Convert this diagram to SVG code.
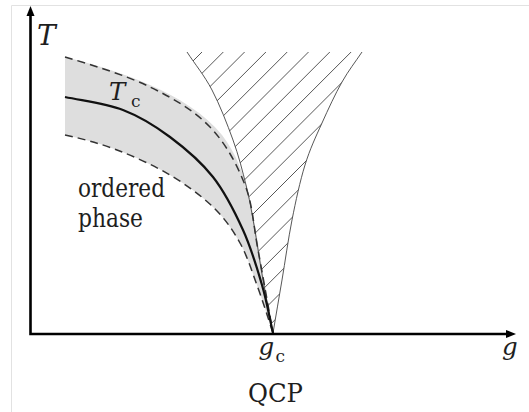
<svg xmlns="http://www.w3.org/2000/svg" width="529" height="412" viewBox="0 0 529 412">
<defs>
<style>
text{font-family:'DejaVu Serif',serif;fill:#1e1e1e}
.it{font-style:italic}
.dash{fill:none;stroke:#333;stroke-width:1.5;stroke-dasharray:8 5}
.thin{fill:none;stroke:#444;stroke-width:0.9}
</style>
<clipPath id="hatchClip">
<path d="M187,52 C195.3,64.7 204.3,75.3 212,90 C219.7,104.7 227.3,124.2 233,140 C238.7,155.8 242.5,170.8 246,185 C249.5,199.2 251.2,209.2 254,225 C256.8,240.8 259.8,262 263,280 C266.2,298 269.7,315.3 273,333 C276,315.3 278.8,298.8 282,280 C285.2,261.2 288.2,239.2 292,220 C295.8,200.8 300,181.2 305,165 C310,148.8 315.8,136.8 322,123 C328.2,109.2 335.3,93.8 342,82 C348.7,70.2 355.3,62 362,52 Z"/>
</clipPath>
</defs>
<rect width="529" height="412" fill="#fff"/>
<g id="frame" fill="none" stroke="#e2e2e2" stroke-width="1">
<path d="M11.5,412 L11.5,5.5 L529,5.5"/>
</g>
<g id="band">
<path fill="#dedede" d="M65,57 C93,64 126,74 150,85 C178,97 205,114 222,135 C236,153 244,175 249,195 C255,220 262,270 273,333 C268,318 263.5,303 258,288 C252.5,273 247.5,256.5 240,243 C232.5,229.5 224.7,218.3 213,207 C201.3,195.7 186,184.5 170,175 C154,165.5 134.5,156.7 117,150 C99.5,143.3 82.3,138.7 65,135 Z"/>
</g>
<g id="hatch">
<path class="thin" clip-path="url(#hatchClip)" d="M-107.3,340 L192.7,40 M-86,340 L214,40 M-64.7,340 L235.3,40 M-43.4,340 L256.6,40 M-22.1,340 L277.9,40 M-0.8,340 L299.2,40 M20.5,340 L320.5,40 M41.8,340 L341.8,40 M63.1,340 L363.1,40 M84.4,340 L384.4,40 M105.7,340 L405.7,40 M127,340 L427,40 M148.3,340 L448.3,40 M169.6,340 L469.6,40 M190.9,340 L490.9,40 M212.2,340 L512.2,40 M233.5,340 L533.5,40 M254.8,340 L554.8,40 M276.1,340 L576.1,40"/>
<path class="thin" d="M187,52 C195.3,64.7 204.3,75.3 212,90 C219.7,104.7 227.3,124.2 233,140 C238.7,155.8 242.5,170.8 246,185 C249.5,199.2 251.2,209.2 254,225 C256.8,240.8 259.8,262 263,280 C266.2,298 269.7,315.3 273,333"/>
<path class="thin" d="M362,52 C355.3,62 348.7,70.2 342,82 C335.3,93.8 328.2,109.2 322,123 C315.8,136.8 310,148.8 305,165 C300,181.2 295.8,200.8 292,220 C288.2,239.2 285.2,261.2 282,280 C278.8,298.8 276,315.3 273,333"/>
</g>
<g id="curves">
<path class="dash" d="M65,57 C93.3,65.3 125.8,75.3 150,87 C174.2,98.7 194.2,110.7 210,127 C225.8,143.3 237,164.5 245,185 C253,205.5 253.3,225.3 258,250 C262.7,274.7 268,305.3 273,333"/>
<path class="dash" d="M65,135 C82.3,138.7 99.5,143.3 117,150 C134.5,156.7 154,165.5 170,175 C186,184.5 201.3,195.7 213,207 C224.7,218.3 232.5,229.5 240,243 C247.5,256.5 252.5,273 258,288 C263.5,303 268,318 273,333"/>
<path fill="none" stroke="#111" stroke-width="2.2" d="M65,97 C84.3,101 105.5,103.3 123,110 C140.5,116.7 155,125.8 170,137 C185,148.2 200.8,161.5 213,177 C225.2,192.5 234.8,212 243,230 C251.2,248 257,267.8 262,285 C267,302.2 269.3,317 273,333"/>
</g>
<g id="axes">
<path fill="none" stroke="#000" stroke-width="2.6" d="M30.5,14 L30.5,334 L508,334"/>
<polygon points="30.5,6 26.5,16 34.5,16" fill="#000"/>
<polygon points="516,334 506,330 506,338" fill="#000"/>
</g>
<g id="labels">
<text class="it" x="37" y="45" font-size="28">T</text>
<text x="109" y="100" font-size="24.5"><tspan class="it">T</tspan><tspan font-size="17" x="131" y="106.5">c</tspan></text>
<text x="78" y="197" font-size="25.5" textLength="87" lengthAdjust="spacingAndGlyphs">ordered</text>
<text x="78" y="226.5" font-size="25.5" textLength="65" lengthAdjust="spacingAndGlyphs">phase</text>
<text x="258.5" y="355" font-size="24.5"><tspan class="it">g</tspan><tspan font-size="17" x="275.5" y="361.5">c</tspan></text>
<text class="it" x="502" y="355" font-size="24.5">g</text>
<text x="248" y="401.5" font-size="26.5" textLength="55" lengthAdjust="spacingAndGlyphs">QCP</text>
</g>
</svg>
